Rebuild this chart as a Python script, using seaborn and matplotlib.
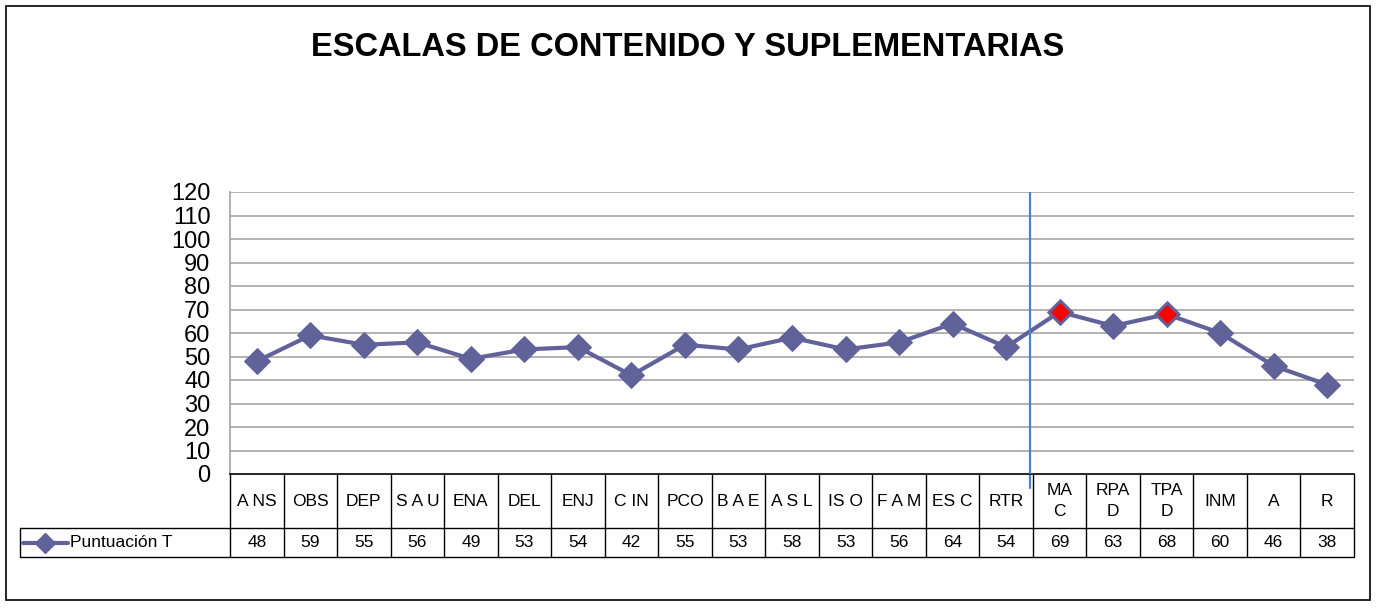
import matplotlib
matplotlib.use("Agg")
import matplotlib.pyplot as plt
import seaborn as sns
import pandas as pd
from matplotlib.patches import Rectangle

categories = ["ANS", "OBS", "DEP", "SAU", "ENA", "DEL", "ENJ", "CIN", "PCO", "BAE", "ASL",
              "ISO", "FAM", "ESC", "RTR", "MAC", "RPAD", "TPAD", "INM", "A", "R"]
header_labels = ["A NS", "OBS", "DEP", "S A U", "ENA", "DEL", "ENJ", "C IN", "PCO", "B A E", "A S L",
                 "IS O", "F A M", "ES C", "RTR", "MA\nC", "RPA\nD", "TPA\nD", "INM", "A", "R"]
scores = [48, 59, 55, 56, 49, 53, 54, 42, 55, 53, 58, 53, 56, 64, 54, 69, 63, 68, 60, 46, 38]
highlighted = ["MAC", "TPAD"]
series_name = "Puntuación T"
title = "ESCALAS DE CONTENIDO Y SUPLEMENTARIAS"

sns.set_theme(style="white")
plt.rcParams["font.family"] = ["Liberation Sans", "DejaVu Sans"]
plt.rcParams["text.color"] = "black"
plt.rcParams["ytick.color"] = "black"

W, H = 1376, 608
fig = plt.figure(figsize=(W / 100, H / 100), dpi=100)

def fx(px):
    return px / W

def fy(py):
    return 1 - py / H

left, right, top, bottom = 230, 1354, 192, 474
ax = fig.add_axes([fx(left), fy(bottom), fx(right - left), (bottom - top) / H])

df = pd.DataFrame({"pos": range(len(categories)), "score": scores, "cat": categories})
line_color = "#62629A"
sns.lineplot(data=df, x="pos", y="score", ax=ax, color=line_color, linewidth=3,
             marker="D", markersize=13, markeredgecolor=line_color, legend=False)
hl = df[df["cat"].isin(highlighted)]
sns.scatterplot(data=hl, x="pos", y="score", ax=ax, color="#FF0000", marker="D", s=120,
                edgecolor=line_color, linewidth=1.2, zorder=5, legend=False)

n = len(categories)
ax.set_xlim(-0.5, n - 0.5)
ax.set_ylim(0, 120)
ax.set_yticks(range(0, 121, 10))
ax.set_yticklabels([str(v) for v in range(0, 121, 10)], fontsize=17, color="black")
ax.tick_params(axis="y", length=0, pad=14)
ax.set_xticks([])
ax.set_xlabel("")
ax.set_ylabel("")
for v in range(10, 121, 10):
    ax.axhline(v, color="#A6A6A6", linewidth=1.2, zorder=0)
for s in ["top", "right"]:
    ax.spines[s].set_visible(False)
ax.spines["left"].set_color("#A6A6A6")
ax.spines["bottom"].set_color("black")
ax.spines["bottom"].set_linewidth(1.2)

# divider between content and supplementary scales
ax.axvline(14.45, ymin=0, ymax=1, color="#4F81BD", linewidth=1.6, zorder=3)
ax.plot([14.45, 14.45], [0, -0.05], color="#4F81BD", linewidth=1.6,
        transform=ax.get_xaxis_transform(), clip_on=False)

# data table under the chart
row1, row2 = 528, 557
col_w = (right - left) / n
lc = "black"
for i in range(n + 1):
    x = left + i * col_w
    fig.add_artist(plt.Line2D([fx(x), fx(x)], [fy(bottom), fy(row2)], color=lc, linewidth=1.0))
for y in [row1, row2]:
    fig.add_artist(plt.Line2D([fx(20), fx(right)], [fy(y), fy(y)], color=lc, linewidth=1.0))
fig.add_artist(plt.Line2D([fx(20), fx(20)], [fy(row1), fy(row2)], color=lc, linewidth=1.0))

tfont = ["Liberation Sans Narrow", "Liberation Sans", "DejaVu Sans"]
for i, (lab, val) in enumerate(zip(header_labels, scores)):
    cx = left + (i + 0.5) * col_w
    fig.text(fx(cx), fy((bottom + row1) / 2), lab, ha="center", va="center",
             fontsize=12.5, family=tfont, linespacing=1.5)
    fig.text(fx(cx), fy((row1 + row2) / 2), str(val), ha="center", va="center",
             fontsize=12.5, family=tfont)

# legend key in the table
ly = fy((row1 + row2) / 2)
fig.add_artist(plt.Line2D([fx(23), fx(68)], [ly, ly], color=line_color, linewidth=3))
fig.add_artist(plt.Line2D([fx(45)], [ly], color=line_color, marker="D", markersize=10))
fig.text(fx(70), ly, series_name, ha="left", va="center", fontsize=12.5, family=tfont)

fig.text(fx(688), fy(48), title, ha="center", va="center", fontsize=23.5, fontweight="bold")

fig.add_artist(Rectangle((fx(6), fy(600)), fx(1364), (600 - 6) / H, fill=False,
                         edgecolor="black", linewidth=1.2, transform=fig.transFigure))

fig.savefig("out.png", dpi=100)
